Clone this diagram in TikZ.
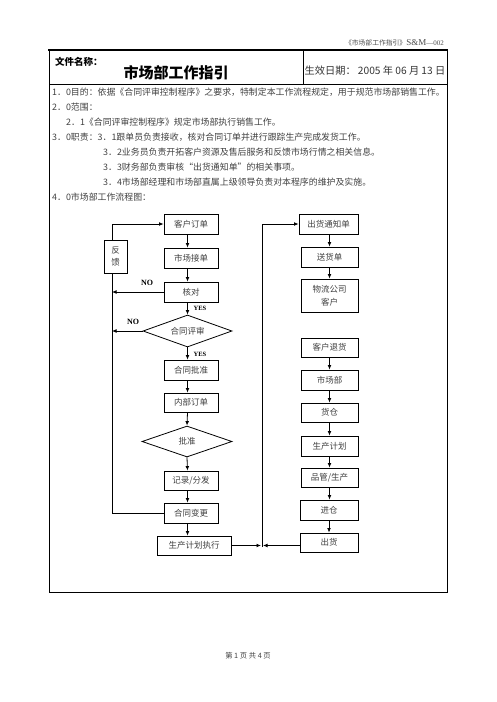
\documentclass[tikz,border=0pt]{standalone}
\usepackage{fontspec}
\setmainfont{Noto Sans CJK SC}
\newfontfamily\latf{Liberation Serif}
\usetikzlibrary{arrows.meta,shapes.geometric}
\begin{document}
\begin{tikzpicture}[x=1pt,y=-1pt,
  box/.style={draw,line width=0.8pt,inner sep=0pt,minimum width=54pt,minimum height=20pt,font=\fontsize{8.5}{10}\selectfont,text=black!75,fill=white,align=center},
  dia/.style={draw,line width=0.8pt,diamond,aspect=2.8,inner sep=0pt,font=\fontsize{8.5}{10}\selectfont,text=black!75},
  arr/.style={line width=0.8pt,-{Latex[length=4.5pt,width=3.8pt]}},
  ln/.style={line width=0.8pt},
  body/.style={anchor=west,inner sep=0pt,font=\fontsize{8.9}{10}\selectfont,text=black!75},
  yn/.style={inner sep=0pt,font=\latf\bfseries\fontsize{8}{9}\selectfont},
  ys/.style={inner sep=0pt,font=\latf\bfseries\fontsize{6.5}{8}\selectfont}]
\useasboundingbox (0,0) rectangle (496,702);
% header line
\node[anchor=east,inner sep=0pt,text=black!70] (hdr) at (444,43) {{\fontsize{6.8}{8}\selectfont 《市场部工作指引》}{\latf\fontsize{9}{10}\selectfont S\&M}{\latf\fontsize{7}{8}\selectfont —002}};
% table
\draw[ln] (49,50) rectangle (447,592);
\draw[line width=1.8pt] (48.1,50) -- (447.9,50);
\draw[ln] (49,84) -- (447,84);
\draw[ln] (303,50) -- (303,84);
\node[anchor=west,inner sep=0pt,font=\bfseries\fontsize{9.5}{11}\selectfont] (fn) at (55,62) {文件名称：};
\node[inner sep=0pt,font=\bfseries\fontsize{15}{17}\selectfont] (title) at (176,73) {市场部工作指引};
\node[inner sep=0pt,font=\fontsize{10.2}{12}\selectfont,text=black!80] (date) at (375,71) {生效日期： 2005 年 06 月 13 日};
% body text
\node[body] (t1) at (52,92.5) {1．0目的：依据《合同评审控制程序》之要求，特制定本工作流程规定，用于规范市场部销售工作。};
\node[body] (t2) at (52,107) {2．0范围：};
\node[body] (t3) at (66,121.7) {2．1《合同评审控制程序》规定市场部执行销售工作。};
\node[body] (t4) at (52,136.7) {3．0职责：3．1跟单员负责接收，核对合同订单并进行跟踪生产完成发货工作。};
\node[body] (t5) at (103,151.7) {3．2业务员负责开拓客户资源及售后服务和反馈市场行情之相关信息。};
\node[body] (t6) at (103,166.7) {3．3财务部负责审核“出货通知单”的相关事项。};
\node[body] (t7) at (103,181.7) {3．4市场部经理和市场部直属上级领导负责对本程序的维护及实施。};
\node[body] (t8) at (52,196.7) {4．0市场部工作流程图：};
% left column
\node[box] (kh) at (191,224) {客户订单};
\node[box] (sc) at (191,258) {市场接单};
\node[box] (hd) at (191,292) {核对};
\node[dia,minimum width=89pt,minimum height=32pt] (ps) at (187.5,331) {合同评审};
\node[box] (pz) at (191,370) {合同批准};
\node[box,minimum height=19pt] (nb) at (191,402.5) {内部订单};
\node[dia,minimum width=90pt,minimum height=31pt] (pzd) at (187,441.5) {批准};
\node[box,minimum height=19pt] (jl) at (191,480.5) {记录/分发};
\node[box] (bg) at (191,513) {合同变更};
\node[box,minimum width=74pt,minimum height=19pt] (zx) at (194,545.5) {生产计划执行};
\draw[arr] (kh.south -| ps.center) -- (sc.north -| ps.center);
\draw[arr] (sc.south -| ps.center) -- (hd.north -| ps.center);
\draw[arr] (hd.south -| ps.center) -- (ps.north);
\draw[arr] (ps.south) -- (pz.north -| ps.center);
\draw[arr] (pz.south -| ps.center) -- (nb.north -| ps.center);
\draw[arr] (nb.south -| ps.center) -- (pzd.north);
\draw[arr] (pzd.south) -- (jl.north -| ps.center);
\draw[arr] (jl.south -| ps.center) -- (bg.north -| ps.center);
\draw[arr] (bg.south -| ps.center) -- (zx.north -| ps.center);
% feedback loop
\coordinate (fbx) at (112,0);
\draw[arr] (bg.west) -- (bg.west -| fbx) -- (kh.west -| fbx) -- (kh.west);
\draw[arr] (hd.west) -- (hd.west -| fbx);
\draw[arr] (ps.west) -- (ps.west -| fbx);
\node[box,minimum width=23pt,minimum height=33pt,font=\fontsize{8.5}{12}\selectfont] (fk) at (115.5,256.5) {反\\馈};
\node[yn] (no1) at (147,283) {NO};
\node[yn] (no2) at (133,322) {NO};
\node[ys] (yes1) at (200,308) {YES};
\node[ys] (yes2) at (200,354) {YES};
% right column
\node[box,minimum width=59pt] (tz) at (328.5,224) {出货通知单};
\node[box,minimum width=57pt] (sh) at (329.5,257) {送货单};
\node[box,minimum width=57pt,minimum height=33pt,font=\fontsize{8.5}{13}\selectfont] (wl) at (329.5,295.5) {物流公司\\客户};
\node[box,minimum width=57pt,minimum height=19pt] (th) at (329.5,347.5) {客户退货};
\node[box,minimum width=57pt] (scb) at (329.5,380) {市场部};
\node[box,minimum width=57pt,minimum height=19pt] (hc) at (329.5,412.5) {货仓};
\node[box,minimum width=57pt] (jh) at (329.5,446) {生产计划};
\node[box,minimum width=57pt,minimum height=19pt] (pg) at (329.5,477.5) {品管/生产};
\node[box,minimum width=58pt] (jc) at (329,510) {进仓};
\node[box,minimum width=58pt,minimum height=19pt] (ch) at (329,542.5) {出货};
\draw[arr] (tz.south -| sh.center) -- (sh.north);
\draw[arr] (sh.south) -- (wl.north);
\draw[arr] (th.south) -- (scb.north);
\draw[arr] (scb.south) -- (hc.north);
\draw[arr] (hc.south) -- (jh.north);
\draw[arr] (jh.south) -- (pg.north);
\draw[arr] (pg.south) -- (jc.north -| pg.center);
\draw[arr] (jc.south) -- (ch.north);
% join
\coordinate (ja) at (261,545.5);
\coordinate (jb) at (263,545.5);
\coordinate (jv) at (262,547);
\draw[arr] (zx.east) -- (ja);
\draw[arr] (ch.west |- jb) -- (jb);
\draw[arr] (jv) |- (tz.west);
% footer
\node[inner sep=0pt,font=\fontsize{7.3}{8}\selectfont,text=black!75] (ft) at (248,655.5) {第 1 页 共 4 页};
\end{tikzpicture}
\end{document}
